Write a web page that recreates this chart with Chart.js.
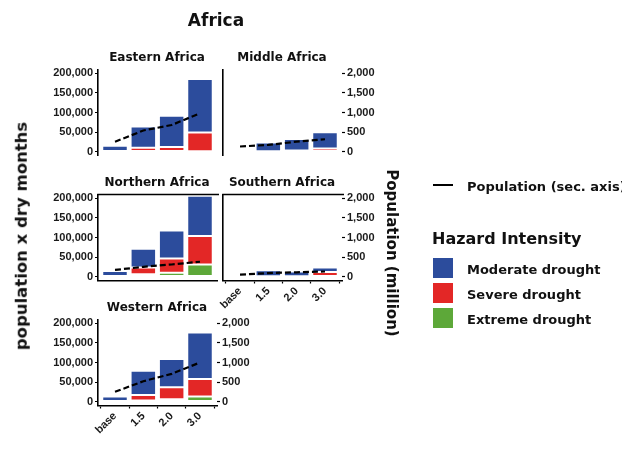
<!DOCTYPE html>
<html><head><meta charset="utf-8">
<script src="https://cdn.jsdelivr.net/npm/chart.js@4.4.1/dist/chart.umd.min.js"></script>
<style>
html,body{margin:0;padding:0;background:#fff;}
#wrap{position:relative;width:622px;height:449px;overflow:hidden;font-family:'DejaVu Sans',sans-serif;color:#111;}
canvas{position:absolute;left:0;top:0;}
.t{position:absolute;white-space:nowrap;font-weight:bold;transform:translate(-50%,-50%);line-height:1;}
.key{position:absolute;width:20px;height:20px;}
</style></head><body>
<div id="wrap">
  <canvas id="c0" width="622" height="449"></canvas>
  <canvas id="c1" width="622" height="449"></canvas>
  <canvas id="c2" width="622" height="449"></canvas>
  <canvas id="c3" width="622" height="449"></canvas>
  <canvas id="c4" width="622" height="449"></canvas>
  <div class="t" style="left:216px;top:20px;font-size:17px;">Africa</div>
  <div class="t" id="s0" style="left:157px;top:57px;font-size:12px;"></div>
  <div class="t" id="s1" style="left:282px;top:57px;font-size:12px;"></div>
  <div class="t" id="s2" style="left:157px;top:182px;font-size:12px;"></div>
  <div class="t" id="s3" style="left:282px;top:182px;font-size:12px;"></div>
  <div class="t" id="s4" style="left:157px;top:307px;font-size:12px;"></div>
  <div class="t" style="left:22px;top:236px;font-size:16.5px;transform:translate(-50%,-50%) rotate(-90deg);">population x dry months</div>
  <div class="t" style="left:391px;top:253px;font-size:15px;transform:translate(-50%,-50%) rotate(90deg);">Population (million)</div>
  <div style="position:absolute;left:433px;top:184px;width:20px;height:2px;background:#000;"></div>
  <div class="t" style="left:467px;top:186px;font-size:13px;transform:translate(0,-50%);">Population (sec. axis)</div>
  <div class="t" style="left:432px;top:239px;font-size:16px;transform:translate(0,-50%);">Hazard Intensity</div>
  <div class="key" id="k0" style="left:433px;top:258px;"></div>
  <div class="key" id="k1" style="left:433px;top:283px;"></div>
  <div class="key" id="k2" style="left:433px;top:308px;"></div>
  <div class="t" id="l0" style="left:467px;top:269px;font-size:13px;transform:translate(0,-50%);"></div>
  <div class="t" id="l1" style="left:467px;top:294px;font-size:13px;transform:translate(0,-50%);"></div>
  <div class="t" id="l2" style="left:467px;top:319px;font-size:13px;transform:translate(0,-50%);"></div>
</div>
<script>
// ---------- data ----------
const categories = ['base', '1.5', '2.0', '3.0'];
const regionNames = ['Eastern Africa', 'Middle Africa', 'Northern Africa', 'Southern Africa', 'Western Africa'];
const seriesNames = ['Moderate drought', 'Severe drought', 'Extreme drought'];
const leftTicks = [0, 50000, 100000, 150000, 200000];
const rightTicks = [0, 500, 1000, 1500, 2000];

const easternModerate = [15000, 54000, 80000, 137000];
const easternSevere   = [0, 10000, 12000, 48000];
const easternExtreme  = [0, 0, 0, 1000];
const easternPopulation = [250, 540, 680, 980];

const middleModerate = [3000, 22000, 29000, 41500];
const middleSevere   = [0, 1000, 3000, 8000];
const middleExtreme  = [0, 0, 0, 0];
const middlePopulation = [130, 170, 255, 316];

const northernModerate = [14000, 48000, 72000, 103000];
const northernSevere   = [0, 17000, 36000, 73000];
const northernExtreme  = [0, 6000, 10000, 31000];
const northernPopulation = [170, 250, 310, 380];

const southernModerate = [2000, 15000, 12000, 11000];
const southernSevere   = [0, 1000, 1000, 12000];
const southernExtreme  = [0, 0, 0, 0];
const southernPopulation = [50, 90, 110, 130];

const westernModerate = [13000, 62000, 72000, 119000];
const westernSevere   = [0, 14000, 31000, 45000];
const westernExtreme  = [0, 3000, 6000, 13000];
const westernPopulation = [250, 520, 710, 1000];

// ---------- style ----------
const colors = { moderate: '#2C4C9C', severe: '#E32726', extreme: '#5DA839' };
['k0','k1','k2'].forEach((id, i) => {
  document.getElementById(id).style.background = [colors.moderate, colors.severe, colors.extreme][i];
  document.getElementById('l' + i).textContent = seriesNames[i];
});
regionNames.forEach((n, i) => document.getElementById('s' + i).textContent = n);

const panels = [
  { mod: easternModerate, sev: easternSevere, ext: easternExtreme, pop: easternPopulation,
    L: 98, R: 217, T: 69.5, B: 155.5, leftLabels: true, rightLabels: false, xLabels: false, xLine: false, top: false },
  { mod: middleModerate, sev: middleSevere, ext: middleExtreme, pop: middlePopulation,
    L: 223, R: 342, T: 69.5, B: 155.5, leftLabels: false, rightLabels: true, xLabels: false, xLine: false, top: false },
  { mod: northernModerate, sev: northernSevere, ext: northernExtreme, pop: northernPopulation,
    L: 98, R: 217, T: 194.5, B: 280.5, leftLabels: true, rightLabels: false, xLabels: false, xLine: true, top: true },
  { mod: southernModerate, sev: southernSevere, ext: southernExtreme, pop: southernPopulation,
    L: 223, R: 342, T: 194.5, B: 280.5, leftLabels: false, rightLabels: true, xLabels: true, xLine: true, top: true },
  { mod: westernModerate, sev: westernSevere, ext: westernExtreme, pop: westernPopulation,
    L: 98, R: 217, T: 319.5, B: 405.5, leftLabels: true, rightLabels: true, xLabels: true, xLine: true, top: false }
];

Chart.defaults.font.family = "'Liberation Sans', Arial, sans-serif";
Chart.defaults.font.size = 11;
Chart.defaults.font.weight = 'bold';
Chart.defaults.color = '#1a1a1a';

const topBorder = {
  id: 'topBorder',
  afterDraw(chart, args, opts) {
    if (!opts.show) return;
    const { ctx, chartArea: a } = chart;
    ctx.save();
    ctx.strokeStyle = '#000';
    ctx.lineWidth = 1.6;
    ctx.beginPath();
    ctx.moveTo(a.left - 0.8, a.top);
    ctx.lineTo(a.right + 2, a.top);
    ctx.stroke();
    ctx.restore();
  }
};

const pts = arr => arr.map((v, i) => ({ x: i, y: v }));
const W = 622, H = 449;

panels.forEach((p, idx) => {
  const lw = p.leftLabels ? 50 : 0;
  const rw = p.rightLabels ? 40 : 0;
  const xh = p.xLabels ? 40 : 4;
  const barStyle = { type: 'bar', borderColor: '#ffffff', borderWidth: 1, borderSkipped: false,
                     barPercentage: 0.9, categoryPercentage: 1.0, yAxisID: 'y', order: 2, stack: 's' };
  new Chart(document.getElementById('c' + idx), {
    data: {
      datasets: [
        Object.assign({ label: seriesNames[2], data: pts(p.ext), backgroundColor: colors.extreme }, barStyle),
        Object.assign({ label: seriesNames[1], data: pts(p.sev), backgroundColor: colors.severe }, barStyle),
        Object.assign({ label: seriesNames[0], data: pts(p.mod), backgroundColor: colors.moderate }, barStyle),
        { type: 'line', label: 'Population (sec. axis)', data: pts(p.pop), yAxisID: 'y2', order: 0,
          borderColor: '#000', borderWidth: 2.2, borderDash: [6, 3], pointRadius: 0, tension: 0 }
      ]
    },
    options: {
      responsive: false, animation: false, devicePixelRatio: 1,
      layout: { padding: { left: p.L - lw, right: W - p.R - rw, top: p.T, bottom: H - p.B - xh } },
      plugins: { legend: { display: false }, tooltip: { enabled: false }, topBorder: { show: p.top } },
      scales: {
        x: {
          type: 'linear', min: -0.6, max: 3.6, offset: false,
          afterBuildTicks: s => { s.ticks = categories.map((c, i) => ({ value: i })); },
          afterFit: s => { s.height = xh; },
          border: { display: p.xLine, color: '#000', width: 1.6 },
          grid: { drawOnChartArea: false, drawTicks: p.xLabels, tickLength: 3, color: '#000', tickWidth: 1.2 },
          ticks: { display: p.xLabels, autoSkip: false, minRotation: 45, maxRotation: 45, padding: 1,
                   callback: v => categories[v] }
        },
        y: {
          type: 'linear', position: 'left', stacked: true, min: -10000, max: 210000,
          afterBuildTicks: s => { s.ticks = leftTicks.map(v => ({ value: v })); },
          afterFit: s => { s.width = lw; },
          border: { display: true, color: '#000', width: 1.6 },
          grid: { drawOnChartArea: false, drawTicks: p.leftLabels, tickLength: 3, color: '#000', tickWidth: 1.2 },
          ticks: { display: p.leftLabels, padding: 2, callback: v => v.toLocaleString('en-US') }
        },
        y2: {
          type: 'linear', position: 'right', display: p.rightLabels, min: -100, max: 2100,
          afterBuildTicks: s => { s.ticks = rightTicks.map(v => ({ value: v })); },
          afterFit: s => { s.width = rw; },
          border: { display: false },
          grid: { drawOnChartArea: false, drawTicks: true, tickLength: 3, color: '#000', tickWidth: 1.2 },
          ticks: { padding: 2, callback: v => v.toLocaleString('en-US') }
        }
      }
    },
    plugins: [topBorder]
  });
});
</script>
</body></html>
